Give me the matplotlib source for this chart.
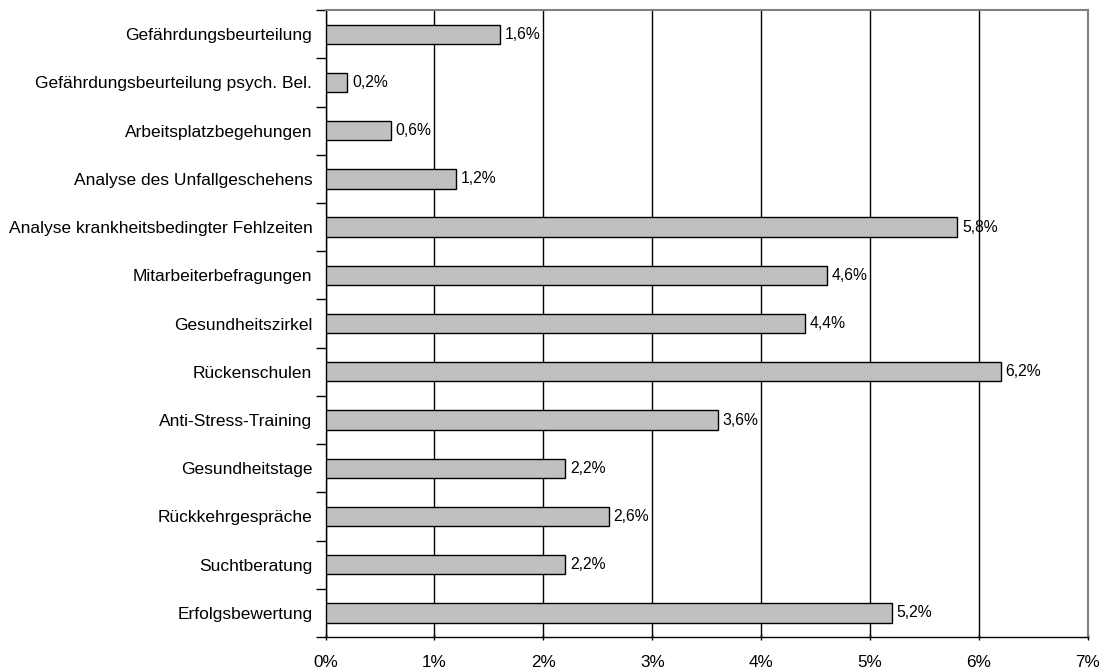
import matplotlib.pyplot as plt
from matplotlib.ticker import FixedLocator

plt.rcParams['font.family'] = ['Liberation Sans', 'DejaVu Sans']

categories = ['Gefährdungsbeurteilung', 'Gefährdungsbeurteilung psych. Bel.',
              'Arbeitsplatzbegehungen', 'Analyse des Unfallgeschehens',
              'Analyse krankheitsbedingter Fehlzeiten', 'Mitarbeiterbefragungen',
              'Gesundheitszirkel', 'Rückenschulen', 'Anti-Stress-Training',
              'Gesundheitstage', 'Rückkehrgespräche', 'Suchtberatung',
              'Erfolgsbewertung']
values = [1.6, 0.2, 0.6, 1.2, 5.8, 4.6, 4.4, 6.2, 3.6, 2.2, 2.6, 2.2, 5.2]
xticks = [0, 1, 2, 3, 4, 5, 6, 7]

fig = plt.figure(figsize=(11.05, 6.72), dpi=100)
ax = fig.add_axes([0.2946, 0.052, 0.69, 0.933])

ypos = list(range(len(categories)))[::-1]
ax.barh(ypos, values, height=0.4, color='#c0c0c0', edgecolor='black', linewidth=1, zorder=3)

for y, v in zip(ypos, values):
    ax.text(v + 0.045, y, ('%.1f%%' % v).replace('.', ','), va='center', ha='left', fontsize=11.3)

ax.set_xlim(0, 7)
ax.set_ylim(-0.5, len(categories) - 0.5)
ax.set_xticks(xticks)
ax.set_xticklabels(['%d%%' % t for t in xticks], fontsize=12.3)
ax.xaxis.grid(True, color='black', linewidth=1, zorder=0)
ax.set_axisbelow(True)

ax.set_yticks(ypos)
ax.set_yticklabels(categories, fontsize=12.5)
ax.tick_params(axis='y', length=0, pad=9.5)
ax.yaxis.set_minor_locator(FixedLocator([i - 0.5 for i in range(len(categories) + 1)]))
ax.tick_params(axis='y', which='minor', length=7, width=1, direction='out')
ax.tick_params(axis='x', length=4, width=1, direction='inout', pad=11)

for s in ['top', 'right']:
    ax.spines[s].set_color('#808080')
    ax.spines[s].set_linewidth(1.5)
for s in ['left', 'bottom']:
    ax.spines[s].set_color('black')
    ax.spines[s].set_linewidth(1)

fig.savefig('out.png', dpi=100)
